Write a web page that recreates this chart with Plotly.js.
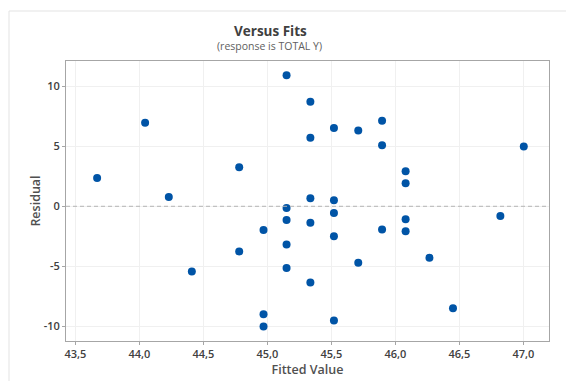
<!DOCTYPE html>
<html>
<head>
<meta charset="utf-8">
<script src="https://cdn.plot.ly/plotly-3.0.1.min.js"></script>
<style>
html,body{margin:0;padding:0;background:#fff;}
#chart{width:566px;height:381px;}
</style>
</head>
<body>
<div id="chart"></div>
<script>
const fittedValues = [43.67, 44.045, 44.23, 44.41, 45.15, 45.336, 45.52, 45.71, 45.336, 44.78,
  45.336, 45.52, 45.15, 45.15, 45.336, 45.52, 44.97, 45.52, 45.15, 44.78,
  45.71, 45.15, 45.336, 44.97, 44.97, 45.52, 45.896, 45.896, 46.08, 46.08,
  47.003, 46.82, 46.08, 46.08, 45.896, 46.266, 46.45];
const residuals = [2.36, 6.94, 0.78, -5.42, 10.89, 8.69, 6.5, 6.3, 5.69, 3.25,
  0.67, 0.5, -0.14, -1.14, -1.36, -0.56, -1.97, -2.5, -3.17, -3.75,
  -4.69, -5.14, -6.33, -8.97, -10.0, -9.5, 7.11, 5.08, 2.92, 1.92,
  4.97, -0.81, -1.08, -2.08, -1.92, -4.28, -8.47];
const xTickVals = [43.5, 44.0, 44.5, 45.0, 45.5, 46.0, 46.5, 47.0];
const xTickText = ["43,5", "44,0", "44,5", "45,0", "45,5", "46,0", "46,5", "47,0"];
const yTickVals = [-10, -5, 0, 5, 10];
const yTickText = ["-10", "-5", "0", "5", "10"];

const font = "'Open Sans', 'Noto Sans', sans-serif";
const trace = {
  x: fittedValues, y: residuals, type: 'scatter', mode: 'markers',
  marker: {color: '#0054A6', size: 8}, hoverinfo: 'skip'
};
const layout = {
  width: 566, height: 381,
  margin: {l: 66, r: 17, t: 61, b: 40},
  paper_bgcolor: '#fff', plot_bgcolor: '#fff',
  showlegend: false,
  font: {family: font, color: '#404040', size: 11},
  xaxis: {
    range: [43.427, 47.2], tickvals: xTickVals, ticktext: xTickText,
    showgrid: true, gridcolor: '#f0f0f0', zeroline: false,
    showline: true, linecolor: '#a6a6a6', linewidth: 1, mirror: true,
    ticks: 'outside', ticklen: 3, tickcolor: '#a6a6a6',
    tickfont: {size: 11, color: '#404040', family: font, weight: 600},
    title: {text: 'Fitted Value', font: {size: 12.5, color: '#505050', family: font, weight: 600}, standoff: 5}
  },
  yaxis: {
    range: [-11.2, 12.08], tickvals: yTickVals, ticktext: yTickText,
    showgrid: true, gridcolor: '#f0f0f0', zeroline: false,
    showline: true, linecolor: '#a6a6a6', linewidth: 1, mirror: true,
    ticks: 'outside', ticklen: 3, tickcolor: '#a6a6a6',
    tickfont: {size: 11, color: '#404040', family: font, weight: 600},
    title: {text: 'Residual', font: {size: 12.5, color: '#505050', family: font, weight: 600}, standoff: 0}
  },
  shapes: [
    {type: 'line', xref: 'paper', yref: 'y', x0: 0, x1: 1, y0: 0, y1: 0,
     line: {color: '#b4b4b4', width: 1, dash: '4px,3px'}, layer: 'above'},
    {type: 'rect', xref: 'paper', yref: 'paper',
     x0: -57/483, x1: 1.2, y0: -0.2, y1: 1 + 50/280,
     line: {color: '#e3e3e3', width: 1}, fillcolor: 'rgba(0,0,0,0)'}
  ],
  annotations: [
    {text: 'Versus Fits', xref: 'paper', yref: 'paper', x: (270 - 66) / 483, y: 1 + 30 / 280,
     showarrow: false, xanchor: 'center', yanchor: 'middle',
     font: {size: 13.5, color: '#404040', family: font, weight: 700}},
    {text: '(response is TOTAL Y)', xref: 'paper', yref: 'paper', x: (269 - 66) / 483, y: 1 + 15 / 280,
     showarrow: false, xanchor: 'center', yanchor: 'middle',
     font: {size: 10.5, color: '#606060', family: font}}
  ]
};
Plotly.newPlot('chart', [trace], layout, {displayModeBar: false, staticPlot: true});
</script>
</body>
</html>
